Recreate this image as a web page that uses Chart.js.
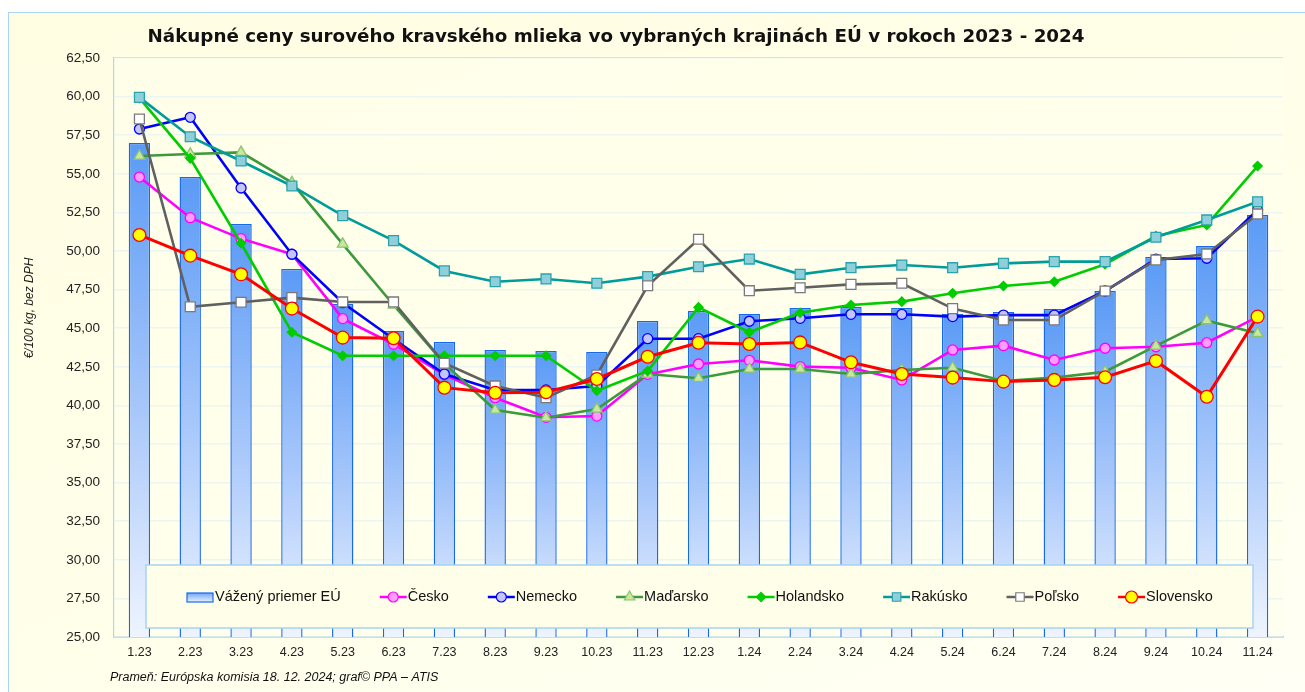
<!DOCTYPE html>
<html lang="sk">
<head>
<meta charset="utf-8">
<title>Nákupné ceny surového kravského mlieka</title>
<script src="https://cdn.jsdelivr.net/npm/chart.js@4.4.1/dist/chart.umd.min.js"></script>
<style>
  html,body{margin:0;padding:0;background:#fff;overflow:hidden;}
  .ram{position:absolute;left:8px;top:12px;width:1310px;height:700px;border:1px solid #A8D6F3;
       background:linear-gradient(160deg,#FFFDE2 0%,#FFFFEA 55%,#FFFFF6 100%);}
  .box{position:absolute;left:0;top:0;width:1305px;height:692px;}
</style>
</head>
<body>
<div class="ram"></div>
<div class="box"><canvas id="graf"></canvas></div>
<script>
// ---------- Dáta ----------
const NADPIS  = "Nákupné ceny surového kravského mlieka vo vybraných krajinách EÚ v rokoch 2023 - 2024";
const PRAMEN  = "Prameň: Európska komisia 18. 12. 2024; graf© PPA – ATIS";
const OS_Y    = "€/100 kg, bez DPH";

const mesiace = ['1.23','2.23','3.23','4.23','5.23','6.23','7.23','8.23','9.23','10.23','11.23','12.23',
                 '1.24','2.24','3.24','4.24','5.24','6.24','7.24','8.24','9.24','10.24','11.24'];

const vazenyPriemer = [56.99,54.79,51.75,48.84,46.57,44.82,44.11,43.59,43.52,43.46,45.47,46.11,45.92,46.31,46.37,46.31,45.92,46.05,46.24,47.41,49.61,50.32,52.33];
const cesko      = [54.79,52.16,50.80,49.79,45.62,43.96,42.00,40.50,39.23,39.31,42.01,42.68,42.92,42.51,42.44,41.65,43.59,43.87,42.94,43.70,43.80,44.06,45.73];
const nemecko    = [57.90,58.66,54.08,49.79,46.65,44.30,42.03,41.00,41.00,41.26,44.32,44.32,45.45,45.64,45.90,45.90,45.75,45.85,45.85,47.41,49.48,49.53,52.66];
const madarsko   = [56.15,56.28,56.39,54.43,50.45,46.50,42.70,39.70,39.20,39.77,42.03,41.76,42.36,42.36,42.03,42.29,42.44,41.58,41.80,42.18,43.85,45.49,44.67];
const holandsko  = [59.90,56.00,50.50,44.74,43.22,43.22,43.22,43.22,43.22,40.95,42.23,46.35,44.74,46.00,46.50,46.72,47.26,47.73,48.01,49.14,50.97,51.69,55.50];
const rakusko    = [59.95,57.40,55.83,54.21,52.29,50.67,48.71,48.01,48.19,47.91,48.34,48.98,49.48,48.49,48.92,49.09,48.92,49.20,49.31,49.31,50.89,52.01,53.19];
const polsko     = [58.55,46.39,46.68,46.98,46.70,46.70,42.73,41.26,40.50,41.97,47.75,50.76,47.43,47.62,47.84,47.91,46.27,45.53,45.53,47.41,49.42,49.81,52.40];
const slovensko  = [51.04,49.70,48.49,46.27,44.39,44.35,41.15,40.82,40.85,41.71,43.15,44.06,43.98,44.08,42.79,42.03,41.80,41.54,41.65,41.82,42.88,40.56,45.75];

// ---------- Štýly ----------
const GRID = '#CCE6F7';
const PISMO = "'Liberation Sans', Arial, sans-serif";

function stlpecGradient(c, yTop){
  const a = c.chartArea;
  const g = c.ctx.createLinearGradient(0, yTop, 0, a.bottom);
  g.addColorStop(0, '#5A9AF6');
  g.addColorStop(0.55, '#A9C8FA');
  g.addColorStop(1, '#EEF4FF');
  return g;
}

function ciara(label, data, farba, bod, vypln, okraj, r, poradie, hr){
  return {type:'line', label, data, order:poradie,
    borderColor:farba, borderWidth:hr||2.6, tension:0,
    pointStyle:bod, pointRadius:r, pointHoverRadius:r,
    pointBackgroundColor:vypln, pointBorderColor:okraj, pointBorderWidth:1.3};
}

const datasets = [
  {type:'bar', label:'Vážený priemer EÚ', data:vazenyPriemer, order:10,
   backgroundColor:(ctx)=>{
     const c = ctx.chart;
     if(!c.chartArea || ctx.type!=='data') return '#7FB0FA';
     return stlpecGradient(c, c.scales.y.getPixelForValue(ctx.raw));
   },
   borderColor:'#1668EE', borderWidth:1.4, barPercentage:0.42, categoryPercentage:1},
  ciara('Česko',     cesko,     '#FF00FF', 'circle',  '#FF9CFF', '#FF00FF', 5,   6),
  ciara('Nemecko',   nemecko,   '#0000FF', 'circle',  '#C4C4FF', '#0000FF', 5,   5),
  ciara('Maďarsko',  madarsko,  '#3C9A3C', 'triangle','#C8E8A0', '#8CC46E', 6.2, 4),
  ciara('Holandsko', holandsko, '#00CC00', 'rectRot', '#00CC00', '#00CC00', 4.6, 3),
  ciara('Rakúsko',   rakusko,   '#009C9C', 'rect',    '#8ECFDB', '#2AA3AA', 7,   2),
  ciara('Poľsko',    polsko,    '#606060', 'rect',    '#FFFFFF', '#7A7A7A', 7,   1),
  ciara('Slovensko', slovensko, '#FF0000', 'circle',  '#FFFF00', '#FF0000', 6.4, 0, 3)
];

// ---------- Nadpis, prameň, legenda ----------
const texty = {
  id:'texty',
  beforeDatasetsDraw(c){
    const a = c.chartArea, x = c.ctx;
    x.save();
    x.fillStyle = 'rgba(255,255,236,0.6)';
    x.fillRect(a.left, a.top, a.right-a.left, a.bottom-a.top);
    x.restore();
  },
  afterDatasetsDraw(c){
    const a = c.chartArea, x = c.ctx;
    x.save();
    // legenda v ramčeku
    const lx = a.left + 32, lw = a.right - a.left - 62, lh = 63, ly = a.bottom - 72;
    x.fillStyle = '#FFFFE9';
    x.fillRect(lx, ly, lw, lh);
    x.strokeStyle = '#A6D2F4'; x.lineWidth = 1.5;
    x.strokeRect(lx, ly, lw, lh);
    x.font = '14.5px ' + PISMO;
    x.textBaseline = 'middle'; x.textAlign = 'left';
    let px = a.left + 73; const py = ly + 32;
    c.data.datasets.forEach(ds=>{
      if(ds.type==='bar'){
        const g = x.createLinearGradient(0, py-4, 0, py+5);
        g.addColorStop(0,'#6FA6F8'); g.addColorStop(1,'#EAF2FF');
        x.fillStyle = g; x.fillRect(px, py-4, 26, 9);
        x.strokeStyle = ds.borderColor; x.lineWidth = 1.2; x.strokeRect(px, py-4, 26, 9);
      }else{
        x.strokeStyle = ds.borderColor; x.lineWidth = 2.5;
        x.beginPath(); x.moveTo(px, py); x.lineTo(px+27, py); x.stroke();
        x.fillStyle = ds.pointBackgroundColor; x.strokeStyle = ds.pointBorderColor; x.lineWidth = 1.2;
        Chart.helpers.drawPoint(x, {pointStyle:ds.pointStyle, radius:Math.min(ds.pointRadius,6), borderWidth:1.2}, px+13.5, py);
      }
      x.fillStyle = '#111';
      x.fillText(ds.label, px+28, py);
      px += 28 + x.measureText(ds.label).width + 39;
    });
    x.restore();
  },
  afterDraw(c){
    const x = c.ctx;
    x.save();
    x.fillStyle = '#111';
    x.font = "bold 18.3px 'DejaVu Sans', Verdana, sans-serif";
    x.textAlign = 'center'; x.textBaseline = 'middle';
    x.fillText(NADPIS, 616, 37);
    x.font = 'italic 12.5px ' + PISMO;
    x.textAlign = 'left';
    x.fillText(PRAMEN, 110, 678);
    // popis osi Y
    x.translate(30, 308);
    x.rotate(-Math.PI/2);
    x.textAlign = 'center';
    x.font = 'italic 12px ' + PISMO;
    x.fillStyle = '#222';
    x.fillText(OS_Y, 0, 0);
    x.restore();
  }
};

new Chart(document.getElementById('graf'), {
  data:{labels:mesiace, datasets},
  options:{
    responsive:true, maintainAspectRatio:false, animation:false,
    layout:{padding:{left:22, right:22, top:58, bottom:25}},
    plugins:{legend:{display:false}, tooltip:{enabled:false}},
    scales:{
      x:{offset:true, grid:{display:false, drawTicks:false}, border:{color:'#9CCDF2', width:1.5},
         ticks:{color:'#222', font:{family:PISMO, size:12.5}, padding:8, maxRotation:0, autoSkip:false},
         afterFit:s=>{ s.height = 30; }},
      y:{min:25, max:62.5,
         grid:{color:GRID, lineWidth:1.5, drawTicks:false},
         border:{color:'#A9D9F4', width:1.5},
         ticks:{stepSize:2.5, color:'#222', font:{family:PISMO, size:13.5}, padding:14,
                callback:v=>v.toFixed(2).replace('.', ',')},
         afterFit:s=>{ s.width = 92; }}
    }
  },
  plugins:[texty]
});
</script>
</body>
</html>
